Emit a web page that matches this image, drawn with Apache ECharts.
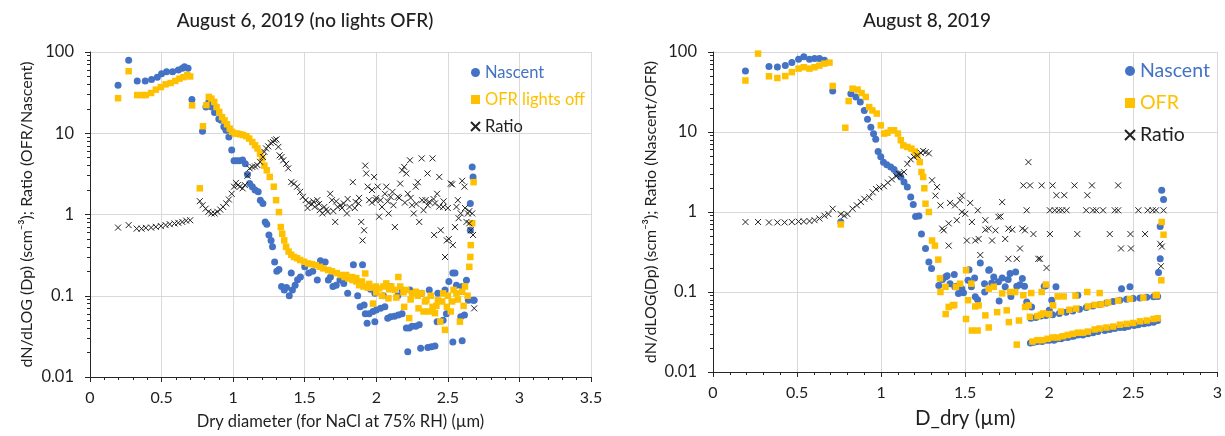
<!DOCTYPE html>
<html>
<head>
<meta charset="utf-8">
<title>Size distributions, August 2019</title>
<script src="https://cdn.jsdelivr.net/npm/echarts@6/dist/echarts.min.js"></script>
<style>
  html, body { margin: 0; padding: 0; background: #ffffff; }
  #chart { width: 1225px; height: 436px; }
</style>
</head>
<body>
<div id="chart"></div>
<script>
// ---- August 6, 2019 (OFR lamps off): [dry diameter µm, dN/dlogDp] ----
const aug6Nascent = [
  [0.196,39],[0.27,79],[0.33,44],[0.386,44],[0.43,46],[0.47,49],[0.50,54],[0.535,57],[0.577,57],[0.617,60],
  [0.645,63],[0.66,66],[0.685,63],[0.712,26],[0.786,10.6],[0.81,21],[0.83,24],[0.85,21],[0.87,18],[0.9,15],
  [0.917,14.5],[0.935,12],[0.95,10.9],[0.97,9],[0.99,6.2],[1.006,4.6],[1.025,4.6],[1.044,4.6],[1.066,4.7],[1.085,4.2],
  [1.10,3.1],[1.115,2.4],[1.134,2.2],[1.153,2.0],[1.175,1.9],[1.19,1.5],[1.208,1.37],[1.224,0.81],[1.235,0.76],[1.25,0.56],
  [1.265,0.48],[1.275,0.4],[1.29,0.26],[1.305,0.2],[1.32,0.21],[1.338,0.13],[1.357,0.118],[1.373,0.126],[1.392,0.10],[1.406,0.19],
  [1.414,0.118],[1.433,0.135],[1.45,0.157],[1.47,0.17],[1.50,0.227],[1.528,0.19],[1.556,0.2],[1.588,0.156],[1.61,0.27],[1.643,0.26],
  [1.665,0.156],[1.68,0.17],[1.697,0.13],[1.72,0.135],[1.746,0.156],[1.773,0.142],[1.80,0.107],[1.84,0.24],[1.87,0.10],[1.887,0.073],
  [1.904,0.24],[1.915,0.077],[1.923,0.06],[1.936,0.046],[1.95,0.06],[1.96,0.12],[1.977,0.064],[1.99,0.048],[1.99,0.107],[2.0,0.067],
  [2.03,0.07],[2.05,0.1],[2.06,0.073],[2.08,0.053],[2.10,0.055],[2.10,0.13],[2.127,0.056],[2.15,0.10],[2.154,0.058],[2.18,0.06],
  [2.18,0.118],[2.21,0.04],[2.22,0.0205],[2.23,0.04],[2.235,0.118],[2.25,0.042],[2.276,0.042],[2.30,0.044],[2.31,0.0226],[2.317,0.107],
  [2.36,0.023],[2.37,0.118],[2.385,0.0236],[2.41,0.024],[2.425,0.048],[2.43,0.107],[2.467,0.05],[2.48,0.118],[2.49,0.06],[2.507,0.15],
  [2.535,0.027],[2.535,0.19],[2.55,0.19],[2.56,0.135],[2.59,0.055],[2.60,0.028],[2.60,0.13],[2.616,0.058],[2.63,0.155],[2.643,0.088],
  [2.657,1.37],[2.67,3.85],[2.676,2.9],[2.657,0.64],[2.676,0.088],[2.684,0.088]
];
const aug6Ofr = [
  [0.196,27],[0.27,58],[0.33,29.5],[0.364,29.5],[0.39,29.5],[0.427,31.3],[0.46,34.4],[0.495,37],[0.528,40],[0.563,41.5],
  [0.596,44],[0.625,47],[0.653,49],[0.68,52],[0.70,50],[0.713,22],[0.767,2.1],[0.789,12.2],[0.813,22.2],[0.83,28],
  [0.848,26.7],[0.868,24.3],[0.884,21],[0.903,18.3],[0.922,15.8],[0.94,14.4],[0.957,12.9],[0.976,11.4],[0.993,10.4],[1.012,9.9],
  [1.03,9.9],[1.05,9.7],[1.07,9.5],[1.093,9.2],[1.112,8.6],[1.134,7.8],[1.153,7.1],[1.17,6.5],[1.188,5.6],[1.202,4.9],
  [1.218,4.0],[1.235,3.5],[1.256,2.9],[1.284,2.2],[1.30,1.5],[1.32,1.07],[1.333,0.7],[1.343,0.58],[1.357,0.48],[1.37,0.4],
  [1.387,0.35],[1.406,0.32],[1.425,0.3],[1.447,0.29],[1.468,0.275],[1.496,0.262],[1.523,0.25],[1.55,0.245],[1.577,0.238],[1.605,0.227],
  [1.63,0.217],[1.664,0.207],[1.69,0.2],[1.724,0.19],[1.75,0.18],[1.778,0.17],[1.79,0.18],[1.805,0.163],[1.83,0.17],[1.833,0.156],
  [1.86,0.15],[1.86,0.165],[1.88,0.135],[1.90,0.15],[1.91,0.13],[1.923,0.188],[1.94,0.126],[1.95,0.14],[1.97,0.126],[1.977,0.08],
  [1.997,0.13],[2.0,0.11],[2.02,0.123],[2.04,0.1],[2.05,0.13],[2.07,0.142],[2.085,0.093],[2.09,0.12],[2.105,0.13],[2.13,0.118],
  [2.14,0.095],[2.154,0.17],[2.167,0.13],[2.19,0.11],[2.195,0.073],[2.21,0.118],[2.23,0.053],[2.24,0.09],[2.25,0.107],[2.276,0.112],
  [2.29,0.1],[2.295,0.07],[2.317,0.107],[2.33,0.064],[2.34,0.085],[2.35,0.088],[2.37,0.064],[2.38,0.1],[2.393,0.073],[2.41,0.061],
  [2.42,0.075],[2.43,0.088],[2.447,0.048],[2.46,0.085],[2.467,0.107],[2.48,0.038],[2.493,0.073],[2.50,0.1],[2.52,0.064],[2.53,0.085],
  [2.54,0.118],[2.56,0.107],[2.57,0.09],[2.584,0.048],[2.60,0.112],[2.61,0.075],[2.62,0.13],[2.638,0.10],[2.65,0.227],[2.657,0.3],
  [2.66,0.42],[2.67,0.78],[2.68,2.5]
];
const aug6Ratio = [
  [0.196,0.69],[0.27,0.74],[0.326,0.67],[0.36,0.67],[0.39,0.685],[0.427,0.69],[0.46,0.705],[0.495,0.72],[0.528,0.74],[0.557,0.76],
  [0.59,0.775],[0.617,0.79],[0.645,0.81],[0.672,0.84],[0.70,0.85],[0.767,1.46],[0.786,1.3],[0.808,1.18],[0.827,1.08],[0.848,1.03],
  [0.87,1.03],[0.89,1.08],[0.91,1.15],[0.93,1.24],[0.952,1.37],[0.97,1.53],[0.99,1.8],[1.006,2.2],[1.02,2.45],[1.033,2.3],
  [1.047,2.2],[1.066,2.1],[1.082,2.3],[1.10,3.0],[1.115,3.7],[1.134,3.85],[1.153,3.9],[1.17,4.05],[1.188,4.45],[1.208,5.1],
  [1.218,5.9],[1.23,6.5],[1.245,6.9],[1.262,7.6],[1.278,7.8],[1.29,8.2],[1.302,8.4],[1.316,6.8],[1.325,5.35],[1.338,5.1],
  [1.35,4.65],[1.37,4.2],[1.385,3.7],[1.406,2.5],[1.425,2.4],[1.447,2.2],[1.468,1.9],[1.487,1.65],[1.506,1.5],[1.52,1.2],
  [1.528,1.39],[1.55,1.34],[1.56,1.45],[1.57,1.24],[1.588,1.5],[1.60,1.35],[1.605,1.13],[1.623,1.03],[1.637,1.24],[1.65,1.15],
  [1.66,1.08],[1.678,1.8],[1.69,1.5],[1.70,1.1],[1.713,0.81],[1.72,1.45],[1.73,1.24],[1.75,1.3],[1.76,1.2],[1.773,1.37],
  [1.795,1.03],[1.80,1.55],[1.813,1.24],[1.836,2.5],[1.85,1.2],[1.855,1.43],[1.876,1.37],[1.88,1.6],[1.895,0.81],[1.904,0.48],
  [1.915,0.64],[1.923,4.0],[1.93,3.2],[1.94,2.2],[1.95,1.5],[1.97,2.0],[1.97,1.4],[1.985,2.9],[1.996,1.5],[2.0,1.6],
  [2.01,2.2],[2.02,0.94],[2.03,1.5],[2.04,1.24],[2.06,1.8],[2.07,2.2],[2.08,1.45],[2.086,1.03],[2.10,1.65],[2.113,1.9],
  [2.12,1.3],[2.13,0.7],[2.15,1.65],[2.16,1.6],[2.167,2.4],[2.18,3.5],[2.195,3.85],[2.20,1.4],[2.21,3.2],[2.22,1.8],
  [2.235,4.65],[2.24,1.6],[2.25,1.3],[2.262,1.03],[2.276,2.2],[2.28,1.35],[2.29,2.5],[2.30,0.81],[2.317,4.9],[2.32,1.5],
  [2.33,1.13],[2.344,1.5],[2.358,3.2],[2.36,1.3],[2.37,1.43],[2.393,4.9],[2.40,1.55],[2.404,0.56],[2.41,1.37],[2.425,1.8],
  [2.44,2.9],[2.44,1.25],[2.45,0.64],[2.467,1.24],[2.47,1.45],[2.48,0.3],[2.493,0.48],[2.50,1.2],[2.507,0.5],[2.52,2.4],
  [2.53,2.35],[2.535,0.42],[2.55,0.7],[2.56,1.24],[2.57,1.5],[2.575,0.9],[2.59,1.03],[2.60,2.6],[2.616,2.2],[2.62,1.2],
  [2.63,0.81],[2.64,1.03],[2.65,0.78],[2.65,1.1],[2.66,0.64],[2.67,1.03],[2.676,0.56],[2.684,0.07]
];

// ---- August 8, 2019: [D_dry µm, dN/dlogDp] ----
const aug8Nascent = [
  [0.193,58],[0.333,66],[0.383,65],[0.43,68],[0.469,74],[0.509,81],[0.54,87],[0.574,81],[0.604,83],[0.633,83],
  [0.663,79],[0.712,32.5],[0.76,0.75],[0.82,30],[0.85,27.4],[0.876,23.7],[0.9,18.6],[0.919,14.4],[0.939,11.5],[0.955,9.5],
  [0.968,8.1],[0.982,5.7],[0.998,4.9],[1.014,4.2],[1.034,3.9],[1.057,3.65],[1.077,3.4],[1.097,3.0],[1.117,2.74],[1.136,2.37],
  [1.156,2.05],[1.176,1.54],[1.191,1.24],[1.205,0.88],[1.225,0.89],[1.24,0.53],[1.264,0.35],[1.284,0.237],[1.3,0.196],[1.343,0.121],
  [1.365,0.143],[1.383,0.154],[1.393,0.16],[1.41,0.127],[1.435,0.165],[1.438,0.116],[1.45,0.118],[1.46,0.096],[1.48,0.11],[1.49,0.098],
  [1.517,0.14],[1.523,0.19],[1.537,0.116],[1.556,0.15],[1.56,0.087],[1.574,0.08],[1.59,0.23],[1.615,0.127],[1.616,0.1],[1.64,0.187],
  [1.644,0.19],[1.658,0.13],[1.67,0.154],[1.698,0.134],[1.702,0.077],[1.72,0.15],[1.738,0.116],[1.756,0.143],[1.767,0.17],[1.772,0.088],
  [1.8,0.178],[1.807,0.118],[1.826,0.123],[1.84,0.148],[1.853,0.118],[1.866,0.075],[1.895,0.065],[1.97,0.118],[1.98,0.12],[2.0,0.059],
  [2.015,0.079],[2.04,0.116],[2.17,0.091],[2.43,0.11],[2.48,0.116],
  [1.89,0.047],[1.92,0.048],[1.95,0.05],[1.98,0.051],[2.02,0.052],[2.06,0.054],[2.10,0.056],[2.14,0.058],[2.18,0.061],[2.22,0.064],
  [2.26,0.067],[2.30,0.07],[2.34,0.073],[2.38,0.076],[2.42,0.079],[2.46,0.081],[2.50,0.083],[2.54,0.084],[2.58,0.086],[2.62,0.087],[2.645,0.088],
  [1.888,0.023],[1.91,0.0235],[1.93,0.024],[1.958,0.024],[1.98,0.025],[2.0,0.025],[2.028,0.025],[2.05,0.026],[2.07,0.026],[2.086,0.027],
  [2.11,0.027],[2.13,0.028],[2.144,0.028],[2.17,0.029],[2.20,0.029],[2.23,0.030],[2.26,0.031],[2.29,0.032],[2.33,0.033],[2.36,0.034],
  [2.39,0.035],[2.42,0.036],[2.446,0.036],[2.47,0.037],[2.505,0.038],[2.53,0.039],[2.563,0.040],[2.59,0.041],[2.62,0.042],[2.645,0.044],
  [2.65,0.175],[2.66,0.26],[2.66,0.66],[2.669,1.87],[2.68,1.43]
];
const aug8Ofr = [
  [0.193,44],[0.268,95.5],[0.333,49.7],[0.383,47.3],[0.43,50],[0.469,56],[0.509,62],[0.54,64.5],[0.574,62],[0.604,64.5],
  [0.633,67.6],[0.663,71.6],[0.693,73.7],[0.712,37.6],[0.76,0.70],[0.787,11.3],[0.807,24.4],[0.83,34.8],[0.86,33.9],[0.884,30.7],
  [0.909,27.4],[0.929,20.5],[0.948,18.6],[0.974,17],[0.998,12.1],[1.018,9.55],[1.038,9.8],[1.057,10.5],[1.077,10.5],[1.1,9.55],
  [1.117,7.9],[1.132,6.8],[1.156,6.5],[1.18,6.2],[1.2,5.7],[1.215,5.1],[1.23,4.2],[1.24,3.16],[1.25,2.74],[1.257,1.98],
  [1.264,1.27],[1.284,1.0],[1.303,0.44],[1.32,0.38],[1.34,0.254],[1.35,0.148],[1.353,0.1],[1.383,0.116],[1.384,0.053],[1.402,0.065],
  [1.426,0.068],[1.435,0.069],[1.445,0.116],[1.47,0.127],[1.505,0.187],[1.505,0.046],[1.517,0.079],[1.537,0.127],[1.54,0.033],[1.56,0.066],
  [1.574,0.033],[1.58,0.068],[1.62,0.051],[1.64,0.11],[1.64,0.036],[1.67,0.116],[1.69,0.056],[1.72,0.096],[1.747,0.059],[1.76,0.042],
  [1.767,0.1],[1.797,0.1],[1.807,0.022],[1.82,0.044],[1.846,0.091],[1.856,0.065],[1.877,0.068],[1.893,0.097],[1.95,0.052],[1.955,0.1],
  [1.965,0.054],[1.98,0.124],[2.023,0.068],[2.05,0.088],[2.086,0.088],[2.156,0.09],[2.226,0.1],[2.30,0.097],[2.634,0.091],
  [1.885,0.049],[1.93,0.05],[2.0,0.053],[2.07,0.057],[2.12,0.06],[2.16,0.062],[2.23,0.066],[2.27,0.069],[2.31,0.07],[2.35,0.074],
  [2.41,0.078],[2.48,0.082],[2.56,0.085],[2.64,0.092],
  [1.90,0.024],[1.93,0.025],[1.96,0.025],[1.99,0.026],[2.02,0.027],[2.05,0.027],[2.08,0.028],[2.11,0.029],[2.14,0.03],[2.17,0.031],
  [2.20,0.031],[2.23,0.032],[2.27,0.034],[2.30,0.035],[2.34,0.036],[2.38,0.037],[2.42,0.039],[2.46,0.04],[2.50,0.041],[2.54,0.043],
  [2.58,0.044],[2.62,0.046],[2.645,0.047],
  [2.667,0.14],[2.669,0.75],[2.68,0.52]
];
const aug8Ratio = [
  [0.193,0.75],[0.268,0.75],[0.333,0.74],[0.383,0.74],[0.426,0.74],[0.469,0.75],[0.509,0.76],[0.54,0.76],[0.574,0.77],[0.604,0.79],
  [0.633,0.83],[0.663,0.9],[0.687,0.94],[0.712,1.1],[0.76,0.94],[0.78,0.9],[0.8,0.94],[0.83,1.1],[0.856,1.21],[0.88,1.33],
  [0.9,1.46],[0.93,1.53],[0.95,1.76],[0.97,1.94],[0.99,2.03],[1.017,2.1],[1.04,2.33],[1.064,2.56],[1.09,2.8],[1.105,3.0],
  [1.117,2.95],[1.136,3.15],[1.156,4.0],[1.176,4.55],[1.195,4.9],[1.215,5.1],[1.235,5.5],[1.25,5.8],[1.265,5.6],[1.284,5.4],
  [1.303,2.49],[1.323,1.6],[1.333,2.05],[1.353,1.21],[1.363,0.62],[1.373,0.59],[1.402,0.72],[1.402,0.38],[1.41,1.3],[1.44,1.21],
  [1.45,0.79],[1.47,1.4],[1.48,1.0],[1.48,1.6],[1.5,0.95],[1.51,0.44],[1.53,1.3],[1.54,0.75],[1.56,0.44],[1.575,1.05],
  [1.58,0.46],[1.59,0.29],[1.62,0.79],[1.62,0.6],[1.64,0.62],[1.66,0.44],[1.68,0.59],[1.698,0.87],[1.71,0.88],[1.72,1.33],
  [1.738,0.46],[1.757,0.62],[1.757,0.26],[1.78,0.6],[1.807,0.26],[1.826,0.35],[1.84,0.62],[1.856,0.59],[1.866,1.05],[1.876,4.2],
  [1.906,0.53],[1.935,0.26],[1.945,0.26],[1.984,0.2],[2.004,0.53],
  [1.846,2.15],[1.886,2.15],[1.955,2.15],[2.02,2.15],[2.15,2.15],[2.254,2.15],[2.41,2.15],
  [2.043,1.62],[2.089,1.62],[2.227,1.62],
  [2.004,1.05],[2.033,1.05],[2.057,1.05],[2.077,1.05],[2.103,1.05],[2.22,1.05],[2.26,1.05],[2.28,1.05],[2.32,1.05],[2.39,1.05],
  [2.41,1.05],[2.53,1.05],[2.586,1.05],[2.615,1.05],[2.635,1.05],[2.68,1.05],
  [2.167,0.53],[2.36,0.53],[2.483,0.53],[2.57,0.53],[2.427,0.35],[2.486,0.35],[2.66,0.4],[2.67,0.37],[2.664,0.21]
];

// axis ticks
const xTicksAug6 = { min: 0, max: 3.5, step: 0.5 };
const xTicksAug8 = { min: 0, max: 3, step: 0.5 };
const yDecades = { min: 0.01, max: 100 };

const FONT = 'Lato, "Open Sans", sans-serif';
const BLUE = '#4472C4';
const GOLD = '#FFC000';
const INK = '#1f1f1f';
const AXIS = '#262626';
const GRID = '#d9d9d9';
const CROSS = 'path://M0,0L10,10M10,0L0,10';

function xAxisFor(gridIndex, ticks, name, nameSize) {
  return {
    type: 'value', gridIndex, min: ticks.min, max: ticks.max, interval: ticks.step,
    name, nameLocation: 'middle', nameGap: 36,
    nameTextStyle: { fontFamily: FONT, fontSize: nameSize, color: INK },
    axisLine: { show: true, onZero: false, lineStyle: { color: AXIS, width: 1 } },
    axisTick: { show: true, length: 5, lineStyle: { color: AXIS } },
    minorTick: { show: true, splitNumber: 5, length: 3, lineStyle: { color: AXIS } },
    splitLine: { show: true, lineStyle: { color: GRID, width: 1 } },
    axisLabel: { fontFamily: FONT, fontSize: 16, color: INK, margin: 13,
                 showMinLabel: true, showMaxLabel: true }
  };
}

function yAxisFor(gridIndex, name, gap) {
  return {
    type: 'log', logBase: 10, gridIndex, min: yDecades.min, max: yDecades.max,
    name, nameLocation: 'middle', nameGap: gap, nameRotate: 90,
    nameTextStyle: { fontFamily: FONT, fontSize: 16, color: INK },
    axisLine: { show: true, onZero: false, lineStyle: { color: AXIS, width: 1 } },
    axisTick: { show: true, length: 5, lineStyle: { color: AXIS } },
    minorTick: { show: true, splitNumber: 9, length: 3, lineStyle: { color: AXIS } },
    splitLine: { show: true, lineStyle: { color: GRID, width: 1 } },
    axisLabel: { fontFamily: FONT, fontSize: 16.5, color: INK, margin: 16,
                 formatter: v => String(Number(Number(v).toPrecision(2))) }
  };
}

function dots(name, data, idx) {
  return { type: 'scatter', name, data, xAxisIndex: idx, yAxisIndex: idx,
           symbol: 'circle', symbolSize: 7, itemStyle: { color: BLUE, opacity: 1 } };
}
function squares(name, data, idx) {
  return { type: 'scatter', name, data, xAxisIndex: idx, yAxisIndex: idx,
           symbol: 'rect', symbolSize: 6.5, itemStyle: { color: GOLD, opacity: 1 } };
}
function crosses(name, data, idx) {
  return { type: 'scatter', name, data, xAxisIndex: idx, yAxisIndex: idx,
           symbol: CROSS, symbolSize: 6,
           itemStyle: { color: 'rgba(0,0,0,0)', borderColor: '#222', borderWidth: 1, opacity: 1 } };
}

const chart = echarts.init(document.getElementById('chart'), null, { renderer: 'canvas' });

chart.setOption({
  animation: false,
  backgroundColor: '#ffffff',
  graphic: [
    { type: 'text', x: 305, y: 21,
      style: { text: 'August 6, 2019 (no lights OFR)', fontFamily: FONT, fontSize: 19, fontWeight: 500,
               fill: INK, align: 'center', verticalAlign: 'middle' } },
    { type: 'text', x: 927, y: 21,
      style: { text: 'August 8, 2019', fontFamily: FONT, fontSize: 19, fontWeight: 500,
               fill: INK, align: 'center', verticalAlign: 'middle' } }
  ],
  grid: [
    { left: 90, top: 52, width: 501, height: 325 },
    { left: 713, top: 52, width: 507, height: 320 }
  ],
  xAxis: [
    xAxisFor(0, xTicksAug6, 'Dry diameter (for NaCl at 75% RH) (\u00b5m)', 16.5),
    xAxisFor(1, xTicksAug8, 'D_dry (\u00b5m)', 20.5)
  ],
  yAxis: [
    yAxisFor(0, 'dN/dLOG (Dp) (scm\u207b\u00b3); Ratio (OFR/Nascent)', 55),
    yAxisFor(1, 'dN/dLOG(Dp) (scm\u207b\u00b3); Ratio (Nascent/OFR)', 54)
  ],
  legend: [
    { orient: 'vertical', left: 465, top: 59, itemGap: 10, itemWidth: 9, itemHeight: 9,
      textStyle: { fontFamily: FONT, fontSize: 16.5, color: INK },
      data: [
        { name: 'Nascent', textStyle: { color: BLUE } },
        { name: 'OFR lights off', textStyle: { color: GOLD } },
        { name: 'Ratio', textStyle: { color: INK } }
      ] },
    { orient: 'vertical', left: 1119, top: 56, itemGap: 12, itemWidth: 10, itemHeight: 10,
      textStyle: { fontFamily: FONT, fontSize: 19.5, color: INK },
      data: [
        { name: 'Nascent', textStyle: { color: BLUE } },
        { name: 'OFR', textStyle: { color: GOLD } },
        { name: 'Ratio', textStyle: { color: INK } }
      ] }
  ],
  series: [
    dots('Nascent', aug6Nascent, 0),
    squares('OFR lights off', aug6Ofr, 0),
    crosses('Ratio', aug6Ratio, 0),
    dots('Nascent', aug8Nascent, 1),
    squares('OFR', aug8Ofr, 1),
    crosses('Ratio', aug8Ratio, 1)
  ]
});
</script>
</body>
</html>
